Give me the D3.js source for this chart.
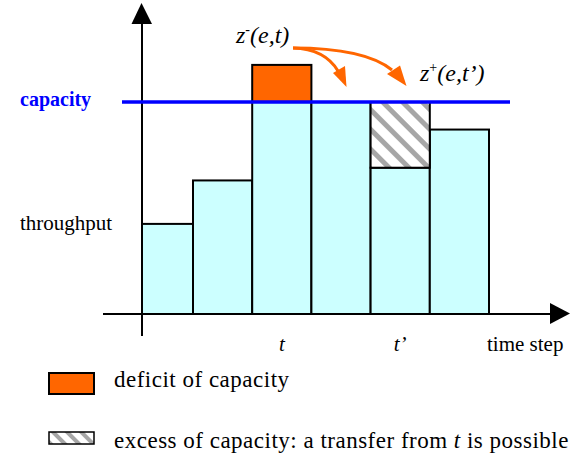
<!DOCTYPE html>
<html><head><meta charset="utf-8">
<script src="https://cdn.jsdelivr.net/npm/d3@7"></script>
</head><body style="margin:0"><svg id="c" width="579" height="457" style="display:block"></svg>
<script>
const steps = ["1","2","3","4","5","6"];
const throughput = [42.5, 63, 100, 100, 69, 87];
const capacity = 100;
const demandAtT = 117.5;      // throughput needed at step t (exceeds capacity)
const tIndex = 2, tPrimeIndex = 4;
const stepLabels = {2: "t", 4: "t\u2019"};

const svg = d3.select("#c");
const x0 = 142, yBase = 314;
const x = d3.scaleBand().domain(steps).range([133.8, 489]).paddingInner(0).paddingOuter(0);
const y = d3.scaleLinear().domain([0, 100]).range([yBase, 102]);

const defs = svg.append("defs");
const pat = defs.append("pattern").attr("id","hatch").attr("patternUnits","userSpaceOnUse")
  .attr("width",14).attr("height",14).attr("patternTransform","rotate(-45)");
pat.append("rect").attr("width",14).attr("height",14).attr("fill","#fff");
pat.append("rect").attr("x",0).attr("width",5).attr("height",14).attr("fill","#a6a6a6");
const pat2 = defs.append("pattern").attr("id","hatch2").attr("patternUnits","userSpaceOnUse")
  .attr("width",10).attr("height",10).attr("patternTransform","rotate(-45)");
pat2.append("rect").attr("width",10).attr("height",10).attr("fill","#fff");
pat2.append("rect").attr("x",0).attr("width",4).attr("height",10).attr("fill","#a6a6a6");

// bars
const bx = d => Math.max(x(d), x0);
svg.append("g").selectAll("rect").data(steps).join("rect")
  .attr("x", d => bx(d))
  .attr("width", d => x(d) + x.bandwidth() - bx(d))
  .attr("y", (d,i) => y(throughput[i]))
  .attr("height", (d,i) => yBase - y(throughput[i]))
  .attr("fill", "#ccffff").attr("stroke", "#000").attr("stroke-width", 2);

// deficit at t
svg.append("rect")
  .attr("x", x(steps[tIndex])).attr("width", x.bandwidth())
  .attr("y", y(demandAtT)).attr("height", y(capacity) - y(demandAtT))
  .attr("fill", "#ff6600").attr("stroke", "#000").attr("stroke-width", 2);
// excess at t'
svg.append("rect")
  .attr("x", x(steps[tPrimeIndex])).attr("width", x.bandwidth())
  .attr("y", y(capacity)).attr("height", y(throughput[tPrimeIndex]) - y(capacity))
  .attr("fill", "url(#hatch)").attr("stroke", "#000").attr("stroke-width", 2);

// axes
const axis = svg.append("g").attr("stroke","#000").attr("stroke-width",2);
axis.append("line").attr("x1",103).attr("x2",552).attr("y1",yBase).attr("y2",yBase);
axis.append("line").attr("x1",x0).attr("x2",x0).attr("y1",336).attr("y2",22);
svg.append("path").attr("d",`M550,303 L570,313.5 L550,324 Z`).attr("fill","#000");
svg.append("path").attr("d",`M131.5,24 L141.5,3 L152,24 Z`).attr("fill","#000");

// capacity line
svg.append("line").attr("x1",122).attr("x2",510).attr("y1",y(capacity)).attr("y2",y(capacity))
  .attr("stroke","#0000ff").attr("stroke-width",3.5);

function txt(xp, yp, size) {
  return svg.append("text").attr("x",xp).attr("y",yp)
    .attr("font-family", "Liberation Serif")
    .style("font-family", '"Liberation Serif"')
    .attr("font-size", size);
}
// labels
txt(20,106,20).attr("fill","#0000ff").attr("font-weight","bold").text("capacity");
txt(20,230,21).text("throughput");
Object.entries(stepLabels).forEach(([i, s]) => {
  txt(x(steps[i]) + x.bandwidth()/2, 351, 21).attr("text-anchor","middle").attr("font-style","italic").text(s);
});
txt(487,351,21).text("time step");

// z labels
const zm = txt(236,43,24).attr("font-style","italic");
zm.append("tspan").text("z");
zm.append("tspan").attr("dy",-9).attr("font-size",14).attr("font-style","normal").text("-");
zm.append("tspan").attr("dy",9).text("(e,t)");
const zp = txt(420,81,24).attr("font-style","italic");
zp.append("tspan").text("z");
zp.append("tspan").attr("dy",-9).attr("font-size",14).attr("font-style","normal").text("+");
zp.append("tspan").attr("dy",9).text("(e,t\u2019)");

// orange arrows
const ar = svg.append("g").attr("fill","none").attr("stroke","#ff6600").attr("stroke-width",3);
ar.append("path").attr("d","M293,48 Q325,49 338,71");
ar.append("path").attr("d","M293,48 Q365,48 392,70");
svg.append("path").attr("d","M333,73 L346.5,87 L345,66 Z").attr("fill","#ff6600");
svg.append("path").attr("d","M387,74 L406.5,86 L400,65.5 Z").attr("fill","#ff6600");

// legend
svg.append("rect").attr("x",49).attr("y",373).attr("width",45).attr("height",21)
  .attr("fill","#ff6600").attr("stroke","#000").attr("stroke-width",2);
txt(114,387,23).attr("letter-spacing",0.5).text("deficit of capacity");
svg.append("rect").attr("x",49).attr("y",432).attr("width",45).attr("height",12)
  .attr("fill","url(#hatch2)").attr("stroke","#000").attr("stroke-width",1.5);
const lt = txt(114,448,23).attr("letter-spacing",0.5);
lt.append("tspan").text("excess of capacity: a transfer from ");
lt.append("tspan").attr("font-style","italic").text("t");
lt.append("tspan").text(" is possible");
</script></body></html>
